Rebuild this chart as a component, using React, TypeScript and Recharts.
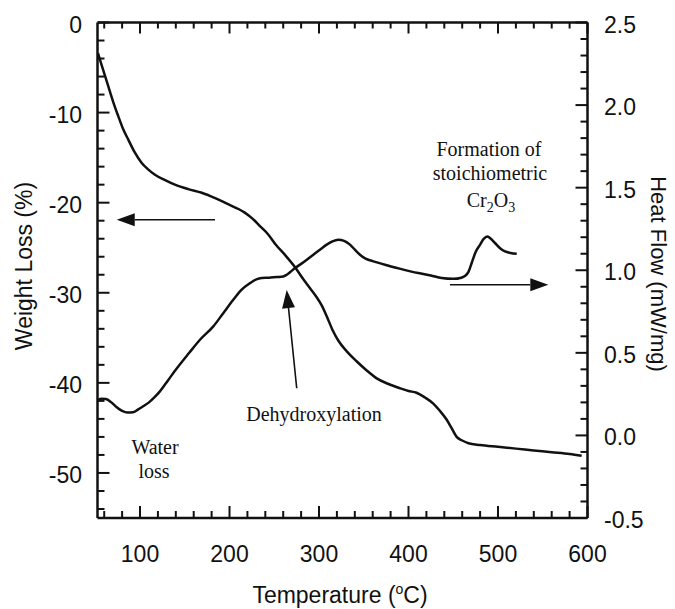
import { ComposedChart, Line, XAxis, YAxis, ReferenceLine } from "recharts";

// TGA weight loss (%) against temperature (°C)
const tgaTemp = [
  53, 58, 64.6, 70, 75.7, 81, 86.9, 94, 101.9, 109, 116.7, 128, 139, 154, 169,
  184, 199, 210, 217, 226, 234, 243, 252, 262, 272, 282.5, 290, 297.4, 303,
  308.6, 315, 321.5, 331, 342, 353, 364.5, 377, 390.5, 400, 409, 418, 427.7,
  435, 442.7, 448, 453.8, 460, 467, 480, 500, 520, 540, 560, 580, 593.5,
];
const tgaWeight = [
  -3.4, -5.0, -7.1, -8.8, -10.4, -11.8, -13.0, -14.4, -15.6, -16.3, -16.9,
  -17.5, -18.0, -18.5, -18.9, -19.5, -20.2, -20.7, -21.1, -21.8, -22.6, -23.5,
  -24.7, -25.8, -27.0, -28.5, -29.5, -30.5, -31.4, -32.6, -34.1, -35.3, -36.5,
  -37.6, -38.6, -39.5, -40.1, -40.6, -40.9, -41.1, -41.6, -42.3, -43.1, -44.1,
  -45.0, -46.0, -46.4, -46.7, -46.9, -47.1, -47.3, -47.5, -47.7, -47.9, -48.1,
];

// DSC heat flow (mW/mg) against temperature (°C)
const dscTemp = [
  53, 57, 62, 68, 74, 80, 86, 92, 98, 104, 110, 116, 122, 131.6, 141, 155, 167,
  181.9, 193, 204.2, 213, 222.9, 230, 236, 244, 252.7, 260, 263.9, 268, 273.2,
  283, 293.6, 301, 308.6, 315, 321.5, 328, 334.6, 340, 345.8, 352, 360, 373.7,
  390, 411, 425, 437.1, 450, 459, 463, 467, 470.6, 475, 480, 484, 488, 491,
  496.6, 502, 507.8, 514, 520.9,
];
const dscHeat = [
  0.215, 0.222, 0.22, 0.2, 0.17, 0.148, 0.138, 0.14, 0.158, 0.178, 0.2, 0.23,
  0.265, 0.336, 0.405, 0.5, 0.579, 0.66, 0.74, 0.821, 0.88, 0.922, 0.945, 0.953,
  0.955, 0.959, 0.962, 0.973, 0.99, 1.013, 1.05, 1.094, 1.124, 1.155, 1.175,
  1.185, 1.178, 1.155, 1.125, 1.094, 1.07, 1.055, 1.033, 1.01, 0.983, 0.968,
  0.953, 0.948, 0.955, 0.965, 0.99, 1.044, 1.11, 1.155, 1.19, 1.205, 1.195,
  1.165, 1.135, 1.114, 1.105, 1.1,
];

// labelled (major) ticks
const tempLabels = [100, 200, 300, 400, 500, 600];
const weightLabels = [0, -10, -20, -30, -40, -50];
const heatLabels = [-0.5, 0, 0.5, 1, 1.5, 2, 2.5];

const tgaData = tgaTemp.map((t, i) => ({ t, w: tgaWeight[i] }));
const dscData = dscTemp.map((t, i) => ({ t, h: dscHeat[i] }));

// evenly spaced tick positions, rounded so 0.1 steps stay clean
const steps = (from: number, to: number, step: number) => {
  const out: number[] = [];
  const n = Math.round((to - from) / step);
  for (let i = 0; i <= n; i++) out.push(Math.round((from + i * step) * 1000) / 1000);
  return out;
};
const tempTicks = steps(60, 600, 20);
const weightTicks = steps(-54, 0, 2);
const heatTicks = steps(-0.5, 2.5, 0.1);

const isMajor = (labels: number[], v: number) =>
  labels.some((l) => Math.abs(l - v) < 1e-6);

const INK = "#111";
const SANS = "'Liberation Sans', Arial, sans-serif";
const SERIF = "'Liberation Serif', 'Times New Roman', serif";
const MAJOR = 12;
const MINOR = 7;

// ticks point into the plot on every side
const BottomTick = ({ x, y, payload }: any) => {
  const major = isMajor(tempLabels, payload.value);
  return (
    <g>
      <line x1={x} y1={y} x2={x} y2={y - (major ? MAJOR : MINOR)} stroke={INK} strokeWidth={2} />
      {major && (
        <text x={x} y={y + 44} textAnchor="middle" fontSize={23} fontFamily={SANS} fill={INK}>
          {payload.value}
        </text>
      )}
    </g>
  );
};

const TopTick = ({ x, y, payload }: any) => {
  const major = isMajor(tempLabels, payload.value);
  return <line x1={x} y1={y} x2={x} y2={y + (major ? MAJOR - 1 : MINOR - 1)} stroke={INK} strokeWidth={2} />;
};

const LeftTick = ({ x, y, payload }: any) => {
  const major = isMajor(weightLabels, payload.value);
  return (
    <g>
      <line x1={x} y1={y} x2={x + (major ? MAJOR : MINOR)} y2={y} stroke={INK} strokeWidth={2} />
      {major && (
        <text x={x - 15.5} y={y + 10} textAnchor="end" fontSize={23} fontFamily={SANS} fill={INK}>
          {payload.value}
        </text>
      )}
    </g>
  );
};

const RightTick = ({ x, y, payload }: any) => {
  const major = isMajor(heatLabels, payload.value);
  return (
    <g>
      <line x1={x} y1={y} x2={x - (major ? MAJOR : MINOR)} y2={y} stroke={INK} strokeWidth={2} />
      {major && (
        <text x={x + 16.5} y={y + 10} textAnchor="start" fontSize={23} fontFamily={SANS} fill={INK}>
          {payload.value.toFixed(1)}
        </text>
      )}
    </g>
  );
};

// line with a filled arrowhead at the second point
const Arrow = ({ x1, y1, x2, y2 }: any) => {
  const len = Math.hypot(x2 - x1, y2 - y1) || 1;
  const ux = (x2 - x1) / len;
  const uy = (y2 - y1) / len;
  const hl = 18;
  const hw = 6.5;
  const bx = x2 - ux * hl;
  const by = y2 - uy * hl;
  return (
    <g>
      <line x1={x1} y1={y1} x2={bx} y2={by} stroke={INK} strokeWidth={1.6} />
      <polygon
        points={`${x2},${y2} ${bx - uy * hw},${by + ux * hw} ${bx + uy * hw},${by - ux * hw}`}
        fill={INK}
      />
    </g>
  );
};

const frame = { stroke: INK, strokeWidth: 2.5 };

export default function App() {
  return (
    <div style={{ position: "absolute", left: 0, top: 0, width: 675, height: 609, overflow: "hidden", background: "#fff" }}>
      <ComposedChart
        width={675}
        height={609}
        margin={{ top: 12.5, right: 27.5, bottom: 31, left: 37.5 }}
      >
        <XAxis
          xAxisId="b"
          type="number"
          dataKey="t"
          domain={[52.5, 600]}
          allowDataOverflow
          ticks={tempTicks}
          interval={0}
          tickSize={0}
          tickMargin={0}
          tickLine={false}
          axisLine={frame}
          tick={BottomTick}
          height={60}
        />
        <XAxis
          xAxisId="t"
          orientation="top"
          type="number"
          dataKey="t"
          domain={[52.5, 600]}
          allowDataOverflow
          ticks={tempTicks}
          interval={0}
          tickSize={0}
          tickMargin={0}
          tickLine={false}
          axisLine={frame}
          tick={TopTick}
          height={10}
        />
        <YAxis
          yAxisId="l"
          type="number"
          domain={[-55, 0]}
          allowDataOverflow
          ticks={weightTicks}
          interval={0}
          tickSize={0}
          tickMargin={0}
          tickLine={false}
          axisLine={frame}
          tick={LeftTick}
          width={60}
        />
        <YAxis
          yAxisId="r"
          orientation="right"
          type="number"
          domain={[-0.5, 2.5]}
          allowDataOverflow
          ticks={heatTicks}
          interval={0}
          tickSize={0}
          tickMargin={0}
          tickLine={false}
          axisLine={frame}
          tick={RightTick}
          width={60}
        />

        <Line
          xAxisId="b"
          yAxisId="l"
          data={tgaData}
          dataKey="w"
          type="monotone"
          stroke={INK}
          strokeWidth={2.5}
          dot={false}
          activeDot={false}
          isAnimationActive={false}
        />
        <Line
          xAxisId="b"
          yAxisId="r"
          data={dscData}
          dataKey="h"
          type="monotone"
          stroke={INK}
          strokeWidth={2.5}
          dot={false}
          activeDot={false}
          isAnimationActive={false}
        />

        {/* arrows tying each curve to its axis, and the dehydroxylation pointer */}
        <ReferenceLine
          xAxisId="b"
          yAxisId="l"
          segment={[{ x: 183.8, y: -21.9 }, { x: 74, y: -21.9 }]}
          shape={Arrow}
        />
        <ReferenceLine
          xAxisId="b"
          yAxisId="r"
          segment={[{ x: 446.4, y: 0.912 }, { x: 556.2, y: 0.912 }]}
          shape={Arrow}
        />
        <ReferenceLine
          xAxisId="b"
          yAxisId="l"
          segment={[{ x: 275.1, y: -40.6 }, { x: 263.9, y: -29.7 }]}
          shape={Arrow}
        />

        <g fontFamily={SERIF} fontSize={20} fill={INK} textAnchor="middle">
          <text x={155} y={454}>Water</text>
          <text x={154} y={478}>loss</text>
          <text x={314} y={421}>Dehydroxylation</text>
          <text x={489} y={156}>Formation of</text>
          <text x={490} y={180}>stoichiometric</text>
          <text x={491} y={207}>
            Cr<tspan fontSize={14} dy={5}>2</tspan>
            <tspan dy={-5}>O</tspan>
            <tspan fontSize={14} dy={5}>3</tspan>
          </text>
        </g>

        <g fontFamily={SANS} fontSize={23} fill={INK} textAnchor="middle">
          <text x={32} y={266} transform="rotate(-90 32 266)">Weight Loss (%)</text>
          <text x={651} y={274} fontSize={22} transform="rotate(90 651 274)">Heat Flow (mW/mg)</text>
          <text x={340} y={603}>
            Temperature (<tspan fontSize={14} dy={-9}>o</tspan>
            <tspan dy={9}>C)</tspan>
          </text>
        </g>
      </ComposedChart>
    </div>
  );
}
